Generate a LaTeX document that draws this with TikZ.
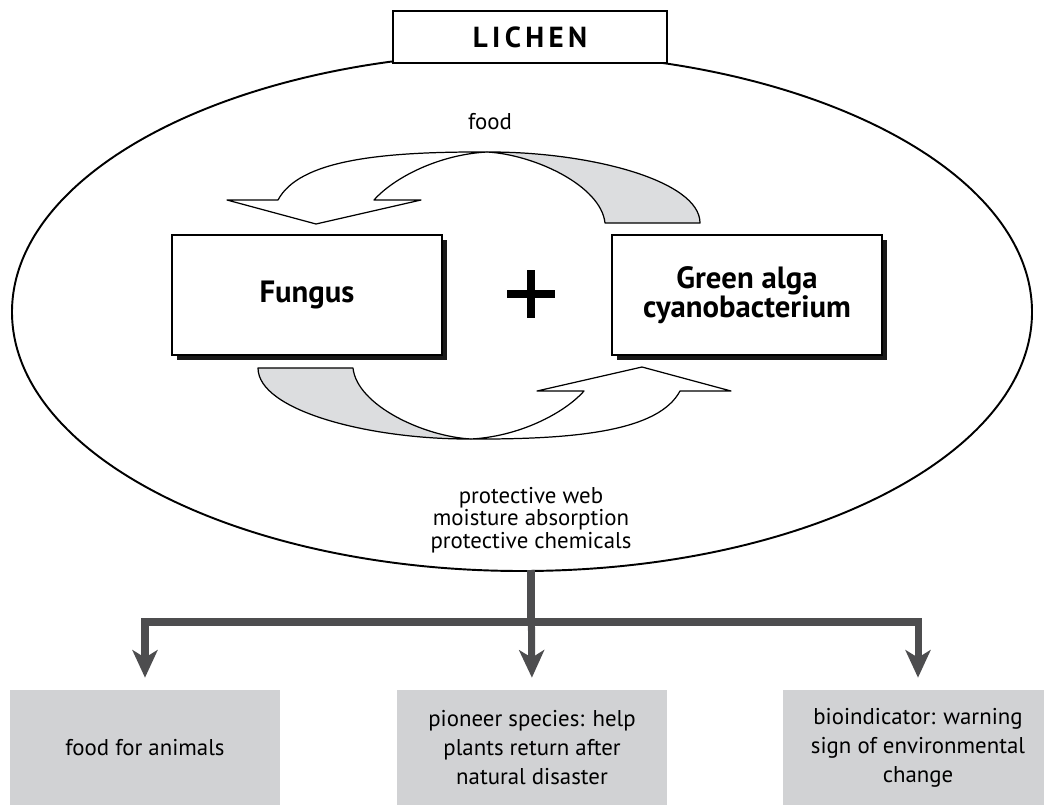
\documentclass[tikz,border=0pt]{standalone}
\usepackage{fontspec}
\setmainfont{PT Sans}
\usetikzlibrary{arrows.meta,shadows}

\definecolor{branchgray}{RGB}{77,77,79}
\definecolor{panelgray}{RGB}{209,210,212}
\definecolor{ribbongray}{RGB}{220,221,223}

\tikzset{
  partbox/.style={draw, line width=1.1pt, fill=white, minimum width=5.4cm, minimum height=2.4cm,
    align=center, font=\fontsize{17.5}{16.5}\selectfont\bfseries,
    drop shadow={shadow xshift=0.1cm, shadow yshift=-0.1cm, opacity=1, fill=black!90}},
  usebox/.style={fill=panelgray, minimum width=5.4cm, minimum height=2.3cm, align=center,
    font=\fontsize{13}{16.5}\selectfont},
  branch/.style={draw=branchgray, line width=4pt, -{Stealth[length=0.55cm, width=0.5cm, inset=0.15cm]},
    shorten >=0.24cm},
  ribbon/.style={draw, line width=0.7pt, line join=round},
}

% twisted exchange arrow, drawn around its own centre
\newcommand{\ribbonback}{(8,-143.5) .. controls (55,-141) and (122,-110) .. (126,-72.5)
  -- (221,-72.5) .. controls (221,-115) and (110,-144) .. cycle}
\newcommand{\ribbonfront}{(-201,-95.5) .. controls (-180,-135) and (-100,-144) .. (8,-143.5)
  .. controls (-40,-141) and (-85,-118) .. (-105,-95.5) -- (-58,-95.5) -- (-163,-71.5)
  -- (-252,-95.5) -- cycle}

\begin{document}
\begin{tikzpicture}[x=0.02cm, y=-0.02cm]
  \useasboundingbox (0,0) rectangle (1044,805);

  % the lichen
  \draw[line width=1.1pt] (522,312) ellipse [x radius=510, y radius=259];
  \node[draw, line width=1.1pt, fill=white, minimum width=5.48cm, minimum height=1.04cm,
    font=\fontsize{16.5}{16.5}\selectfont\bfseries\addfontfeature{LetterSpace=15}] (lichen) at (530,37) {LICHEN};

  \node[partbox] (fungus) at (307,295) {Fungus};
  \node[partbox] (alga) at (747,295) {Green alga\\cyanobacterium};
  \draw[line width=5pt] (507,294) -- (555,294) (531,270) -- (531,318);

  % exchange
  \begin{scope}[shift={(479,295.5)}]
    \draw[ribbon, fill=ribbongray] \ribbonback;
    \draw[ribbon, fill=white] \ribbonfront;
  \end{scope}
  \begin{scope}[shift={(479,295.5)}, rotate=180]
    \draw[ribbon, fill=ribbongray] \ribbonback;
    \draw[ribbon, fill=white] \ribbonfront;
  \end{scope}

  \node[font=\fontsize{13}{14}\selectfont] (food) at (490,122) {food};
  \node[align=center, font=\fontsize{13}{12.8}\selectfont] (shelter) at (531,520)
    {protective web\\moisture absorption\\protective chemicals};

  % uses
  \node[usebox] (animals) at (145,747.5) {food for animals};
  \node[usebox] (pioneer) at (532,747.5) {pioneer species: help\\plants return after\\natural disaster};
  \node[usebox] (change) at (918,747.5) {bioindicator: warning\\sign of environmental\\change};

  \coordinate (stem) at (531,570);
  \coordinate (fork) at (531,622);
  \draw[branch] (stem) -- (fork) -| (animals.north);
  \draw[branch] (stem) -- (fork) -| (change.north);
  \draw[branch] (stem) -- (pioneer.north);
\end{tikzpicture}
\end{document}
